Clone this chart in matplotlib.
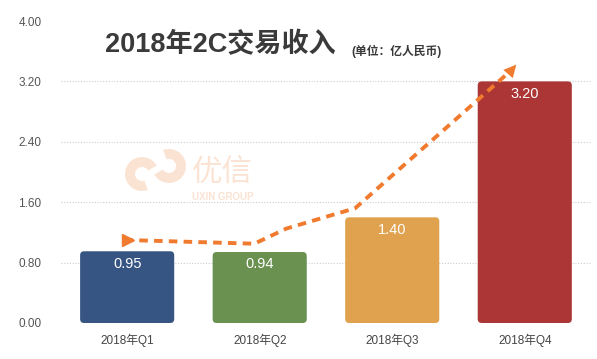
import numpy as np
import matplotlib.pyplot as plt
from matplotlib.patches import FancyBboxPatch, Wedge

plt.rcParams['font.family'] = ['Liberation Sans', 'Noto Sans CJK SC', 'DejaVu Sans']

# data
quarters = ['2018年Q1', '2018年Q2', '2018年Q3', '2018年Q4']
revenue = [0.95, 0.94, 1.40, 3.20]
colors = ['#375582', '#6a9150', '#e0a24f', '#ab3635']
yticks = [0.0, 0.8, 1.6, 2.4, 3.2, 4.0]

# trend arrow path (data coords)
trend_x = [-0.02, 0.96, 1.20, 1.72]
trend_y = [1.10, 1.05, 1.25, 1.52]
arrow_end = (2.95, 3.45)

fig = plt.figure(figsize=(5.97, 3.59), dpi=100)
ax = fig.add_axes([0.102, 0.1003, 0.888, 0.8412])

x = np.arange(len(quarters))
bars = ax.bar(x, revenue, width=0.71, color='none', edgecolor='none')
for b, c in zip(bars, colors):
    p = FancyBboxPatch((b.get_x(), b.get_y()), b.get_width(), b.get_height(),
                       boxstyle='round,pad=0,rounding_size=0.03',
                       mutation_aspect=1.76, facecolor=c, edgecolor='none', zorder=2)
    ax.add_patch(p)
    ax.text(b.get_x() + b.get_width() / 2, b.get_height() - 0.07,
            f'{b.get_height():.2f}', ha='center', va='top', color='white',
            fontsize=10.5, zorder=3)

ax.set_xlim(-0.5, 3.5)
ax.set_ylim(0, 4)
ax.set_xticks(x)
ax.set_xticklabels(quarters, fontsize=8.5, color='#444444')
ax.set_yticks(yticks)
ax.set_yticklabels([f'{v:.2f}' for v in yticks], fontsize=8.5, color='#555555')
ax.tick_params(length=0, pad=8)
ax.tick_params(axis='y', pad=14)
for s in ax.spines.values():
    s.set_visible(False)
# grid only on the inner ticks
for v in yticks[1:-1]:
    ax.axhline(v, linestyle=(0, (1, 1.5)), color='#cccccc', linewidth=0.8, zorder=0)

# watermark
wm = '#fbe3d3'
lg = fig.add_axes([120 / 597, 1 - 195 / 359, 75 / 597, 50 / 359])
lg.set_xlim(120, 195)
lg.set_ylim(195, 145)
lg.set_aspect('equal')
lg.axis('off')
lg.add_patch(Wedge((142, 174), 17, 70, 330, width=10, facecolor=wm, edgecolor='none'))
lg.add_patch(Wedge((169, 166), 17, 250, 510, width=10, facecolor=wm, edgecolor='none'))
ax.text(0.72, 1.99, '优信', fontsize=22, color=wm, ha='center', va='center',
        family='Noto Sans CJK SC', zorder=1)
ax.text(0.72, 1.67, 'UXIN GROUP', fontsize=7, color=wm, ha='center', va='center',
        fontweight='bold', zorder=1)

# trend line
orange = '#f07a2e'
ax.plot(trend_x + [arrow_end[0] - 0.05], trend_y + [arrow_end[1] - 0.1], color=orange,
        lw=2.8, linestyle=(0, (2.2, 1.6)), zorder=4)
ax.plot(trend_x[0] + 0.03, trend_y[0], marker='>', color=orange, markersize=9, zorder=4)
ax.annotate('', xy=arrow_end, xytext=(arrow_end[0] - 0.12, arrow_end[1] - 0.24),
            arrowprops=dict(arrowstyle='-|>,head_length=0.9,head_width=0.45',
                            color=orange, lw=0), zorder=5)

fig.text(0.176, 0.875, '2018年2C交易收入', fontsize=19.5, fontweight='bold',
         color='#3a3a3a', va='center')
fig.text(0.588, 0.856, '(单位：亿人民币)', fontsize=8.5, fontweight='bold',
         color='#3a3a3a', va='center')

fig.savefig('out.png', dpi=100)
